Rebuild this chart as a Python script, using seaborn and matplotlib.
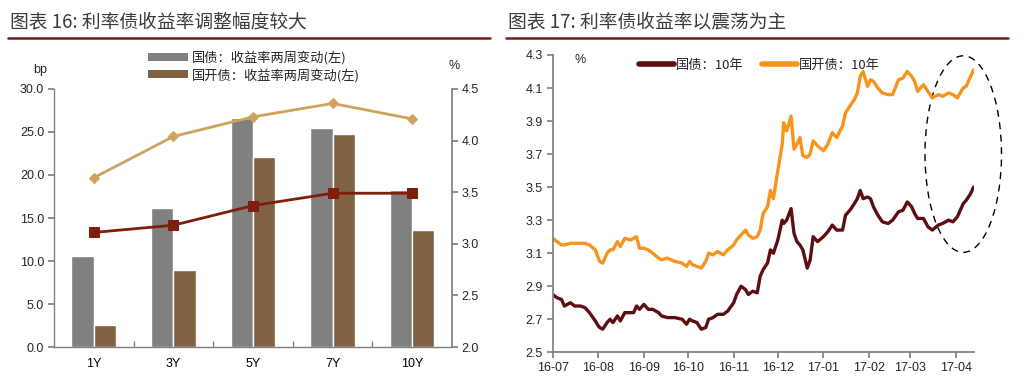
import numpy as np
import pandas as pd
import matplotlib
matplotlib.use('Agg')
import matplotlib.pyplot as plt
import matplotlib.dates as mdates
from matplotlib.patches import Ellipse, Patch
from matplotlib.lines import Line2D
from matplotlib.ticker import FormatStrFormatter, FixedLocator
import seaborn as sns

# ---------------- data: left chart ----------------
tenors = ['1Y', '3Y', '5Y', '7Y', '10Y']
cgb_change_bp = [10.6, 16.2, 26.6, 25.5, 18.2]
cdb_change_bp = [2.6, 8.9, 22.1, 24.8, 13.6]
cdb_level_pct = [3.64, 4.04, 4.23, 4.36, 4.21]
cgb_level_pct = [3.11, 3.18, 3.37, 3.49, 3.49]
bar_series = ['国债：收益率两周变动(左)', '国开债：收益率两周变动(左)']

# ---------------- data: right chart ----------------
dates = ['2016-07-01', '2016-07-04', '2016-07-07', '2016-07-09', '2016-07-13', '2016-07-16',
         '2016-07-20', '2016-07-23', '2016-07-26', '2016-07-30', '2016-08-01', '2016-08-02',
         '2016-08-04', '2016-08-07', '2016-08-09', '2016-08-11', '2016-08-14', '2016-08-16',
         '2016-08-19', '2016-08-23', '2016-08-25', '2016-08-27', '2016-08-29', '2016-09-01',
         '2016-09-04', '2016-09-07', '2016-09-11', '2016-09-13', '2016-09-17', '2016-09-22',
         '2016-09-27', '2016-09-30', '2016-10-02', '2016-10-04', '2016-10-07', '2016-10-10',
         '2016-10-13', '2016-10-15', '2016-10-18', '2016-10-21', '2016-10-25', '2016-10-28',
         '2016-11-01', '2016-11-03', '2016-11-06', '2016-11-09', '2016-11-11', '2016-11-14',
         '2016-11-17', '2016-11-19', '2016-11-21', '2016-11-24', '2016-11-26', '2016-11-28',
         '2016-12-01', '2016-12-04', '2016-12-05', '2016-12-07', '2016-12-10', '2016-12-12',
         '2016-12-14', '2016-12-16', '2016-12-18', '2016-12-21', '2016-12-23', '2016-12-25',
         '2016-12-28', '2017-01-01', '2017-01-04', '2017-01-07', '2017-01-10', '2017-01-14',
         '2017-01-16', '2017-01-19', '2017-01-22', '2017-01-24', '2017-01-26', '2017-01-28',
         '2017-01-31', '2017-02-02', '2017-02-04', '2017-02-07', '2017-02-10', '2017-02-14',
         '2017-02-17', '2017-02-21', '2017-02-24', '2017-02-27', '2017-03-02', '2017-03-04',
         '2017-03-06', '2017-03-10', '2017-03-13', '2017-03-16', '2017-03-20', '2017-03-23',
         '2017-03-27', '2017-03-30', '2017-04-02', '2017-04-06', '2017-04-08', '2017-04-11',
         '2017-04-13']
cgb_10y = [2.85, 2.83, 2.82, 2.78, 2.80, 2.78, 2.78, 2.77, 2.74, 2.69, 2.66, 2.65,
           2.64, 2.68, 2.70, 2.68, 2.72, 2.69, 2.74, 2.74, 2.74, 2.78, 2.76, 2.79,
           2.76, 2.76, 2.74, 2.72, 2.71, 2.71, 2.70, 2.67, 2.70, 2.69, 2.68, 2.64,
           2.65, 2.70, 2.71, 2.73, 2.73, 2.75, 2.80, 2.85, 2.90, 2.88, 2.85, 2.87,
           2.86, 2.96, 3.00, 3.04, 3.12, 3.10, 3.18, 3.30, 3.28, 3.30, 3.37, 3.22,
           3.17, 3.15, 3.12, 3.01, 3.06, 3.20, 3.17, 3.20, 3.23, 3.27, 3.24, 3.24,
           3.33, 3.36, 3.40, 3.43, 3.48, 3.43, 3.44, 3.43, 3.38, 3.33, 3.29, 3.28,
           3.30, 3.35, 3.36, 3.41, 3.38, 3.34, 3.31, 3.31, 3.26, 3.24, 3.27, 3.28,
           3.30, 3.29, 3.32, 3.40, 3.42, 3.46, 3.50]
cdb_10y = [3.19, 3.17, 3.15, 3.15, 3.16, 3.16, 3.16, 3.16, 3.15, 3.12, 3.07, 3.05,
           3.04, 3.10, 3.12, 3.12, 3.17, 3.14, 3.19, 3.18, 3.19, 3.20, 3.13, 3.13,
           3.12, 3.10, 3.07, 3.06, 3.07, 3.05, 3.04, 3.02, 3.05, 3.03, 3.02, 3.01,
           3.05, 3.10, 3.09, 3.11, 3.09, 3.12, 3.15, 3.18, 3.21, 3.24, 3.21, 3.19,
           3.20, 3.24, 3.34, 3.38, 3.48, 3.43, 3.60, 3.76, 3.89, 3.84, 3.93, 3.73,
           3.76, 3.80, 3.69, 3.68, 3.70, 3.78, 3.75, 3.72, 3.76, 3.83, 3.80, 3.87,
           3.95, 3.99, 4.03, 4.07, 4.17, 4.20, 4.11, 4.15, 4.14, 4.10, 4.07, 4.06,
           4.06, 4.15, 4.16, 4.20, 4.17, 4.14, 4.08, 4.12, 4.08, 4.04, 4.06, 4.05,
           4.07, 4.06, 4.04, 4.10, 4.11, 4.17, 4.21]
line_series = ['国债：10年', '国开债：10年']
month_ticks = ['2016-07-01', '2016-08-01', '2016-09-01', '2016-10-01', '2016-11-01',
               '2016-12-01', '2017-01-01', '2017-02-01', '2017-03-01', '2017-04-01']

# ---------------- style ----------------
sns.set_theme(style='ticks')
plt.rcParams['font.family'] = ['Liberation Sans', 'Noto Sans CJK SC', 'DejaVu Sans']
CJK = ['Noto Sans CJK SC', 'DejaVu Sans']
AXC = '#808080'
GRAY = '#808080'
BROWN = '#7F6241'
TAN = '#CFA25E'
RUST = '#7E1E0C'
CGB_C = '#5C0E10'
CDB_C = '#F7941D'
TITLE_C = '#3C3C3C'
RULE_C = '#7A1A1C'
TICK_FS = 9

fig = plt.figure(figsize=(10.24, 3.91), dpi=100)

# titles and rules
fig.text(0.010, 0.945, '图表 16: 利率债收益率调整幅度较大', family=CJK, fontsize=13.5,
         color=TITLE_C, ha='left', va='center', style='italic')
fig.text(0.496, 0.945, '图表 17: 利率债收益率以震荡为主', family=CJK, fontsize=13.5,
         color=TITLE_C, ha='left', va='center', style='italic')
fig.add_artist(Line2D([0.008, 0.479], [0.903, 0.903], color=RULE_C, lw=1.8))
fig.add_artist(Line2D([0.494, 0.984], [0.903, 0.903], color=RULE_C, lw=1.8))

# ---------------- left chart ----------------
axL = fig.add_axes([0.0527, 0.1125, 0.3887, 0.6599])
df_bars = pd.DataFrame({
    'tenor': tenors * 2,
    'bp': cgb_change_bp + cdb_change_bp,
    'series': [bar_series[0]] * len(tenors) + [bar_series[1]] * len(tenors),
})
sns.barplot(data=df_bars, x='tenor', y='bp', hue='series', palette=[GRAY, BROWN],
            width=0.56, errorbar=None, legend=False, saturation=1, ax=axL,
            order=tenors, hue_order=bar_series)
axL.set_xlim(-0.5, len(tenors) - 0.5)
axL.set_ylim(0, 30)
axL.set_yticks(np.arange(0, 30.1, 5))
axL.yaxis.set_major_formatter(FormatStrFormatter('%.1f'))
axL.set_xlabel('')
axL.set_ylabel('')
axL.xaxis.set_minor_locator(FixedLocator(np.arange(0.5, len(tenors) - 1, 1)))
axL.tick_params(axis='x', which='major', length=0, pad=8, labelsize=TICK_FS, colors='black')
axL.tick_params(axis='x', which='minor', length=4, direction='in', color=AXC)
axL.tick_params(axis='y', length=4, direction='out', color=AXC, labelsize=TICK_FS, pad=3)
for s in ['top', 'right']:
    axL.spines[s].set_visible(False)
for s in ['left', 'bottom']:
    axL.spines[s].set_color(AXC)
    axL.spines[s].set_linewidth(1.0)

axL2 = axL.twinx()
xpos = np.arange(len(tenors))
sns.lineplot(x=xpos, y=cdb_level_pct, ax=axL2, color=TAN, lw=2.0, marker='D',
             markersize=5, markeredgecolor=TAN, sort=False)
sns.lineplot(x=xpos, y=cgb_level_pct, ax=axL2, color=RUST, lw=2.0, marker='s',
             markersize=6.5, markeredgecolor=RUST, sort=False)
axL2.set_ylim(2.0, 4.5)
axL2.set_yticks(np.arange(2.0, 4.51, 0.5))
axL2.yaxis.set_major_formatter(FormatStrFormatter('%.1f'))
axL2.set_ylabel('')
axL2.tick_params(axis='y', length=4, direction='out', color=AXC, labelsize=TICK_FS, pad=3)
for s in ['top', 'left', 'bottom']:
    axL2.spines[s].set_visible(False)
axL2.spines['right'].set_color(AXC)
axL2.set_xlim(-0.5, len(tenors) - 0.5)

fig.text(0.032, 0.821, 'bp', fontsize=TICK_FS, ha='left', va='center')
fig.text(0.438, 0.831, '%', fontsize=TICK_FS, ha='left', va='center')

leg_handles = [Patch(facecolor=GRAY, edgecolor='none'), Patch(facecolor=BROWN, edgecolor='none')]
fig.legend(leg_handles, bar_series, loc='center', bbox_to_anchor=(0.248, 0.830),
           frameon=False, ncol=1, handlelength=3.0, handleheight=0.55, handletextpad=0.3,
           labelspacing=0.25, prop={'family': CJK, 'size': 9.5})

# ---------------- right chart ----------------
axR = fig.add_axes([0.5397, 0.0990, 0.4115, 0.7604])
dts = pd.to_datetime(dates)
sns.lineplot(x=dts, y=cgb_10y, ax=axR, color=CGB_C, lw=2.4)
sns.lineplot(x=dts, y=cdb_10y, ax=axR, color=CDB_C, lw=2.4)
axR.set_xlim(pd.Timestamp('2016-07-01'), pd.Timestamp('2017-04-13 08:00'))
axR.set_ylim(2.5, 4.3)
axR.set_yticks(np.arange(2.5, 4.31, 0.2))
axR.yaxis.set_major_formatter(FormatStrFormatter('%.1f'))
axR.set_xticks(pd.to_datetime(month_ticks))
axR.xaxis.set_major_formatter(mdates.DateFormatter('%y-%m'))
axR.tick_params(axis='x', length=4, direction='out', color=AXC, labelsize=TICK_FS, pad=3)
axR.tick_params(axis='y', length=4, direction='out', color=AXC, labelsize=TICK_FS, pad=3)
axR.set_xlabel('')
axR.set_ylabel('')
for s in ['top', 'right']:
    axR.spines[s].set_visible(False)
for s in ['left', 'bottom']:
    axR.spines[s].set_color(AXC)

fig.text(0.561, 0.847, '%', fontsize=TICK_FS, ha='left', va='center')

ell = Ellipse((mdates.date2num(pd.Timestamp('2017-04-06')), 3.70), width=52, height=1.19,
              fill=False, ec='black', lw=1.0, ls=(0, (5, 4)), clip_on=False)
axR.add_patch(ell)

r_handles = [Line2D([], [], color=CGB_C, lw=4), Line2D([], [], color=CDB_C, lw=4)]
fig.legend(r_handles, line_series, loc='center', bbox_to_anchor=(0.742, 0.833),
           frameon=False, ncol=2, handlelength=2.6, handletextpad=0.2, columnspacing=1.4,
           prop={'family': CJK, 'size': 9.5})

fig.savefig('out.png', dpi=100)
